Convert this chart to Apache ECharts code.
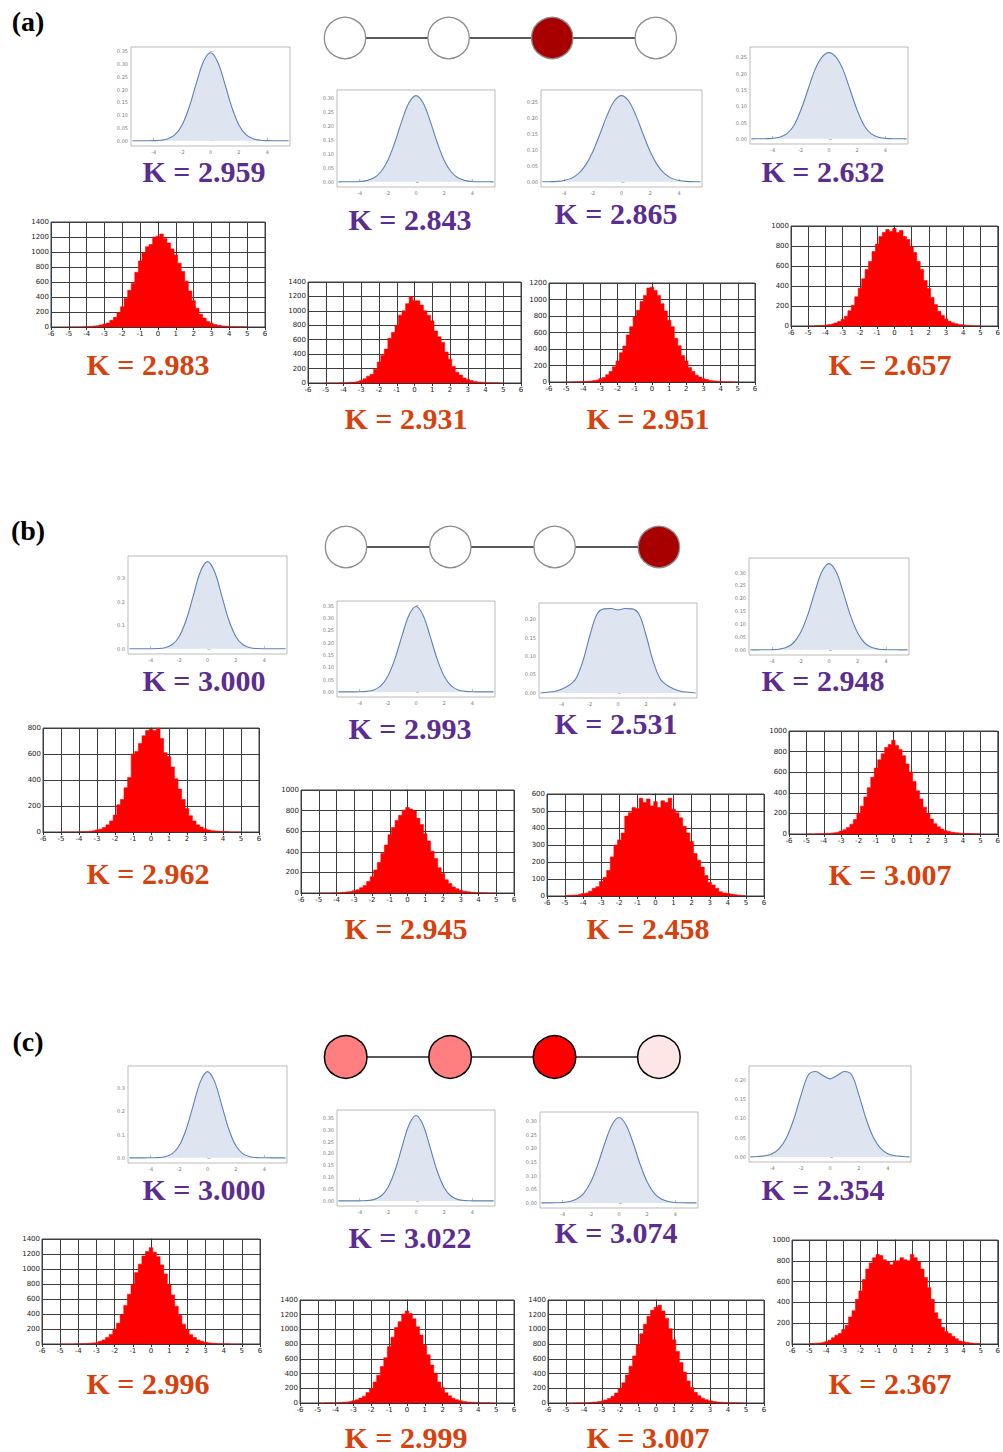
<!DOCTYPE html>
<html><head><meta charset="utf-8">
<script src="https://cdn.jsdelivr.net/npm/echarts@6/dist/echarts.min.js"></script>
<style>html,body{margin:0;padding:0;background:#fff}#c{width:1003px;height:1452px}</style>
</head><body><div id="c"></div>
<script>
// ================= DATA =================
const panelLabels = ['(a)', '(b)', '(c)'];

// density curves (x grid shared)
const densX = [-5.5,-5,-4.5,-4,-3.5,-3,-2.5,-2,-1.5,-1,-0.5,0,0.5,1,1.5,2,2.5,3,3.5,4,4.5,5,5.5];
const densA1 = [0,0,0.0001,0.0004,0.0018,0.0073,0.0237,0.062,0.132,0.225,0.310,0.345,0.310,0.225,0.132,0.062,0.0237,0.0073,0.0018,0.0004,0.0001,0,0];
const densA2 = [0,0.0001,0.0003,0.0012,0.0044,0.0136,0.0354,0.077,0.142,0.219,0.284,0.310,0.284,0.219,0.142,0.077,0.0354,0.0136,0.0044,0.0012,0.0003,0.0001,0];
const densA3 = [0.0001,0.0004,0.0013,0.0041,0.0108,0.0254,0.0523,0.0945,0.150,0.208,0.253,0.270,0.253,0.208,0.150,0.0945,0.0523,0.0254,0.0108,0.0041,0.0013,0.0004,0.0001];
const densA4 = [0,0.0001,0.0004,0.0015,0.005,0.015,0.040,0.088,0.150,0.212,0.251,0.265,0.251,0.212,0.150,0.088,0.040,0.015,0.005,0.0015,0.0004,0.0001,0];
const densB1 = [0,0,0,0.0001,0.0009,0.0044,0.017,0.0514,0.122,0.226,0.327,0.370,0.327,0.226,0.122,0.0514,0.017,0.0044,0.0009,0.0001,0,0,0];
const densB2 = [0,0,0.0001,0.0004,0.0019,0.0075,0.024,0.063,0.133,0.226,0.311,0.346,0.311,0.226,0.133,0.063,0.024,0.0075,0.0019,0.0004,0.0001,0,0];
const densB3 = [0,0.002,0.004,0.010,0.020,0.038,0.085,0.155,0.213,0.228,0.229,0.225,0.229,0.228,0.213,0.155,0.085,0.038,0.020,0.010,0.004,0.002,0];
const densB4 = [0,0,0.0001,0.0005,0.0023,0.0087,0.0265,0.0661,0.134,0.223,0.303,0.335,0.303,0.223,0.134,0.0661,0.0265,0.0087,0.0023,0.0005,0.0001,0,0];
const densC1 = [0,0,0,0.0001,0.0010,0.0045,0.0172,0.0516,0.123,0.227,0.328,0.371,0.328,0.227,0.123,0.0516,0.0172,0.0045,0.0010,0.0001,0,0,0];
const densC2 = [0,0,0,0.0002,0.0012,0.0054,0.0194,0.0557,0.126,0.226,0.320,0.360,0.320,0.226,0.126,0.0557,0.0194,0.0054,0.0012,0.0002,0,0,0];
const densC3 = [0,0.0001,0.0004,0.0014,0.0048,0.014,0.035,0.076,0.141,0.219,0.285,0.312,0.285,0.219,0.141,0.076,0.035,0.014,0.0048,0.0014,0.0004,0.0001,0];
const densC4 = [0,0.001,0.003,0.008,0.022,0.050,0.098,0.160,0.212,0.221,0.211,0.202,0.211,0.221,0.212,0.160,0.098,0.050,0.022,0.008,0.003,0.001,0];

// density y tick labels
const ticks35 = [0,0.05,0.10,0.15,0.20,0.25,0.30,0.35];
const ticks30 = [0,0.05,0.10,0.15,0.20,0.25,0.30];
const ticks25 = [0,0.05,0.10,0.15,0.20,0.25];
const ticks20 = [0,0.05,0.10,0.15,0.20];
const ticksP1 = [0,0.1,0.2,0.3];
const densXTicks = [-4,-2,0,2,4];

// histograms (bin centres shared)
const histX = [-5,-4.8,-4.6,-4.4,-4.2,-4,-3.8,-3.6,-3.4,-3.2,-3,-2.8,-2.6,-2.4,-2.2,-2,-1.8,-1.6,-1.4,-1.2,-1,-0.8,-0.6,-0.4,-0.2,0,0.2,0.4,0.6,0.8,1,1.2,1.4,1.6,1.8,2,2.2,2.4,2.6,2.8,3,3.2,3.4,3.6,3.8,4,4.2,4.4,4.6,4.8,5];
const histA1 = [0,0,0,0,4,6,8,14,18,28, 40,52,90,130,190,270,380,490,580,730, 880,990,1070,1100,1200,1210,1240,1180,1120,1040, 960,850,740,610,480,350,250,170,120,75, 50,32,22,14,10,7,5,4,3,3, 2];
const histA2 = [0,0,0,0,3,5,6,10,14,22, 35,60,95,120,190,290,380,470,620,700, 800,940,1000,1100,1200,1140,1140,1080,1000,940, 860,720,640,560,430,330,230,150,110,70, 50,35,22,14,10,6,5,4,3,0, 0];
const histA3 = [0,0,2,3,4,6,9,11,19,25, 40,55,88,128,185,255,355,435,570,670, 790,870,975,1050,1140,1150,1110,1050,950,860, 750,670,530,440,320,255,175,128,82,60, 38,29,17,13,8,6,4,3,2,1, 0];
const histA4 = [0,0,2,4,6,10,15,21,31,44, 66,98,152,208,292,378,472,565,645,745, 820,895,935,965,945,975,935,955,895,865, 795,735,645,565,455,375,285,215,148,106, 70,48,32,22,14,10,6,4,3,2, 0];
const histB1 = [0,0,0,0,0,2,3,4,6,10, 16,22,35,55,85,130,210,250,340,420, 600,620,680,740,780,790,780,800,720,610, 580,500,410,330,250,180,125,85,55,38, 25,16,10,7,5,4,3,0,0,0, 0];
const histB2 = [0,0,0,0,2,3,5,7,11,14, 23,31,52,73,112,158,224,296,384,466, 565,636,705,755,805,830,815,795,725,665, 575,505,405,335,245,188,128,92,58,41, 27,18,12,8,5,4,3,2,0,0, 0];
const histB3 = [3,4,5,6,10,15,18,28,45,55, 85,110,150,230,300,330,370,470,490,520, 515,575,550,570,530,555,520,560,550,575, 510,490,460,410,370,320,250,210,170,120, 80,65,45,25,18,14,10,7,5,3, 0];
const histB4 = [0,0,0,2,3,4,6,8,12,18, 28,42,62,95,140,200,270,360,450,550, 640,720,780,840,870,910,860,820,760,680, 600,510,420,340,260,200,145,100,70,48, 32,24,16,12,8,6,5,4,3,2, 2];
const histC1 = [0,0,0,0,2,3,4,6,9,15, 21,36,54,88,128,198,276,395,515,665, 795,955,1065,1175,1235,1285,1225,1165,1055,935, 795,655,505,385,265,192,124,86,54,36, 22,14,9,6,4,3,2,0,0,0, 0];
const histC2 = [0,0,2,3,4,5,7,10,15,19, 31,44,67,93,142,198,284,376,495,615, 765,895,1025,1105,1210,1250,1215,1145,1035,925, 785,655,515,405,285,208,138,97,63,45, 30,20,14,10,7,5,4,3,2,0, 0];
const histC3 = [0,0,1,2,3,4,6,9,13,19, 28,42,62,92,135,195,275,380,500,640, 790,940,1070,1180,1260,1300,1330,1250,1150,1010, 860,700,550,420,300,210,145,98,66,45, 30,21,14,10,7,5,4,3,2,1, 0];
const histC4 = [4,5,8,10,15,22,35,60,85,100, 140,180,260,320,430,510,620,720,780,830, 860,850,810,790,760,800,800,830,810,800, 860,830,790,720,640,540,430,300,240,160, 120,100,75,50,30,22,15,10,6,4, 3];

// kurtosis labels
const kDensA = ['2.959','2.843','2.865','2.632'];
const kHistA = ['2.983','2.931','2.951','2.657'];
const kDensB = ['3.000','2.993','2.531','2.948'];
const kHistB = ['2.962','2.945','2.458','3.007'];
const kDensC = ['3.000','3.022','3.074','2.354'];
const kHistC = ['2.996','2.999','3.007','2.367'];

// chain node colours
const nodesA = ['#ffffff','#ffffff','#a80000','#ffffff'];
const nodesB = ['#ffffff','#ffffff','#ffffff','#a80000'];
const nodesC = ['#ff7f80','#ff7f80','#ff0000','#ffe6e6'];

// ================= LAYOUT =================
const densSets = [
  {data:[densA1,densA2,densA3,densA4], ticks:[ticks35,ticks30,ticks25,ticks25], dec:[2,2,2,2],
   rects:[[131,47,159,99],[337,90,158,97],[541,90,161,97],[750,47,158,97]],
   k:kDensA, kpos:[[204,171],[410,219],[616,213],[823,171]]},
  {data:[densB1,densB2,densB3,densB4], ticks:[ticksP1,ticks35,ticks20,ticks30], dec:[1,2,2,2],
   rects:[[128,556,159,98],[337,601,158,96],[539,603,158,95],[749,558,160,97]],
   k:kDensB, kpos:[[204,680],[410,728],[616,723],[823,680]]},
  {data:[densC1,densC2,densC3,densC4], ticks:[ticksP1,ticks35,ticks30,ticks20], dec:[1,2,2,2],
   rects:[[128,1066,159,97],[337,1110,158,96],[540,1112,158,96],[749,1066,162,96]],
   k:kDensC, kpos:[[204,1189],[410,1237],[616,1232],[823,1189]]}
];
const histSets = [
  {data:[histA1,histA2,histA3,histA4], ymax:[1400,1400,1200,1000], step:[200,200,200,200],
   rects:[[51,222,214,105],[308,282,213,101],[549,283,206,99],[791,226,207,100]],
   k:kHistA, kpos:[[148,364],[406,418],[648,418],[890,364]]},
  {data:[histB1,histB2,histB3,histB4], ymax:[800,1000,600,1000], step:[200,200,100,200],
   rects:[[43,728,216,104],[301,790,213,103],[547,794,217,102],[789,731,214,103]],
   k:kHistB, kpos:[[148,873],[406,928],[648,928],[890,874]]},
  {data:[histC1,histC2,histC3,histC4], ymax:[1400,1400,1400,1000], step:[200,200,200,200],
   rects:[[42,1239,218,105],[300,1300,214,103],[548,1300,216,103],[792,1240,215,104]],
   k:kHistC, kpos:[[148,1383],[406,1437],[648,1437],[890,1383]]}
];
const chains = [
  {nodes:nodesA, x0:345, dx:103.6, cy:38, r:20.7, border:'#8c8c8c', bw:1.3},
  {nodes:nodesB, x0:346, dx:104.3, cy:547, r:20.7, border:'#8c8c8c', bw:1.3},
  {nodes:nodesC, x0:345.7, dx:104.4, cy:1057, r:21.3, border:'#000000', bw:1.5}
];
const panelPos = [[28,21],[28,530],[28,1041]];

const PURPLE = '#5c2d91', ORANGE = '#d8400c';
const KFONT = 'bold 30px "Liberation Serif", "DejaVu Serif", serif';

// ================= BUILD =================
const grids = [], xAxes = [], yAxes = [], series = [], graphics = [];

function addDensity(rect, ys, yTicks, dec) {
  const gi = grids.length;
  const peak = Math.max.apply(null, ys);
  grids.push({left:rect[0], top:rect[1], width:rect[2], height:rect[3], show:true,
    borderColor:'#aaaaaa', borderWidth:0.8, backgroundColor:'#ffffff'});
  xAxes.push({gridIndex:gi, type:'value', min:-5.6, max:5.6,
    axisLine:{show:false}, splitLine:{show:false},
    axisTick:{show:true, inside:true, length:3, customValues:densXTicks, lineStyle:{color:'#999', width:0.6}},
    axisLabel:{show:true, customValues:densXTicks, fontSize:5, color:'#7a7a7a', margin:3, fontFamily:'DejaVu Sans'}});
  yAxes.push({gridIndex:gi, type:'value', min:-peak*0.06, max:peak*1.065,
    axisLine:{show:false}, splitLine:{show:false},
    axisTick:{show:true, inside:true, length:3, customValues:yTicks, lineStyle:{color:'#999', width:0.6}},
    axisLabel:{show:true, customValues:yTicks, fontSize:5, color:'#7a7a7a', margin:3, fontFamily:'DejaVu Sans',
      formatter: v => Number(v).toFixed(dec)}});
  series.push({type:'line', xAxisIndex:gi, yAxisIndex:gi, smooth:0.35, showSymbol:false, silent:true,
    data: densX.map((x,i)=>[x, ys[i]]),
    lineStyle:{color:'#5e81b5', width:1.1},
    areaStyle:{color:'#dee5f0', opacity:1}});
}

function addHist(rect, ys, ymax, step) {
  const gi = grids.length;
  grids.push({left:rect[0], top:rect[1], width:rect[2], height:rect[3], show:true,
    borderColor:'#444', borderWidth:1, backgroundColor:'#ffffff'});
  const gl = {show:true, lineStyle:{color:'#3d3d3d', width:1}};
  xAxes.push({gridIndex:gi, type:'value', min:-6, max:6, interval:1,
    axisLine:{show:true, onZero:false, lineStyle:{color:'#333', width:1}},
    axisTick:{show:true, length:3, lineStyle:{color:'#333'}},
    splitLine:gl,
    axisLabel:{fontSize:7, color:'#222', margin:3, fontFamily:'DejaVu Sans', formatter: v => String(v)}});
  yAxes.push({gridIndex:gi, type:'value', min:0, max:ymax, interval:step,
    axisLine:{show:true, lineStyle:{color:'#333', width:1}},
    axisTick:{show:true, length:3, lineStyle:{color:'#333'}},
    splitLine:gl,
    axisLabel:{fontSize:7, color:'#222', margin:2, fontFamily:'DejaVu Sans', formatter: v => String(v)}});
  series.push({type:'line', xAxisIndex:gi, yAxisIndex:gi, step:'middle', showSymbol:false, silent:true,
    data: histX.map((x,i)=>[x, ys[i]]),
    lineStyle:{color:'#ff0000', width:0.6},
    areaStyle:{color:'#ff0000', opacity:1}});
}

function addChain(c) {
  const gi = grids.length;
  grids.push({left:c.x0, width:c.dx*3, top:c.cy-10, height:20, show:false});
  xAxes.push({gridIndex:gi, type:'value', min:0, max:3, show:false});
  yAxes.push({gridIndex:gi, type:'value', min:-1, max:1, show:false});
  const pts = c.nodes.map((col,i)=>[i,0]);
  series.push({type:'line', xAxisIndex:gi, yAxisIndex:gi, data:pts, showSymbol:false, silent:true,
    lineStyle:{color:'#5a5a5a', width:2}, z:3});
  series.push({type:'scatter', xAxisIndex:gi, yAxisIndex:gi, silent:true, z:4,
    symbolSize:c.r*2,
    data: c.nodes.map((col,i)=>({value:[i,0], itemStyle:{color:col, opacity:1, borderColor:c.border, borderWidth:c.bw}}))});
}

function addText(txt, pos, color, font) {
  graphics.push({type:'text', x:pos[0], y:pos[1], z:100, silent:true,
    style:{text:txt, fill:color, font:font, textAlign:'center', textVerticalAlign:'middle'}});
}

for (let p = 0; p < 3; p++) {
  addChain(chains[p]);
  const d = densSets[p], h = histSets[p];
  for (let i = 0; i < 4; i++) {
    addDensity(d.rects[i], d.data[i], d.ticks[i], d.dec[i]);
    addText('K = ' + d.k[i], d.kpos[i], PURPLE, KFONT);
    addHist(h.rects[i], h.data[i], h.ymax[i], h.step[i]);
    addText('K = ' + h.k[i], h.kpos[i], ORANGE, KFONT);
  }
  addText(panelLabels[p], panelPos[p], '#000', 'bold 28px "Liberation Serif", "DejaVu Serif", serif');
}

const chart = echarts.init(document.getElementById('c'), null, {renderer:'svg', width:1003, height:1452});
chart.setOption({
  animation:false,
  backgroundColor:'#ffffff',
  grid:grids, xAxis:xAxes, yAxis:yAxes, series:series, graphic:graphics
});
</script>
</body></html>
